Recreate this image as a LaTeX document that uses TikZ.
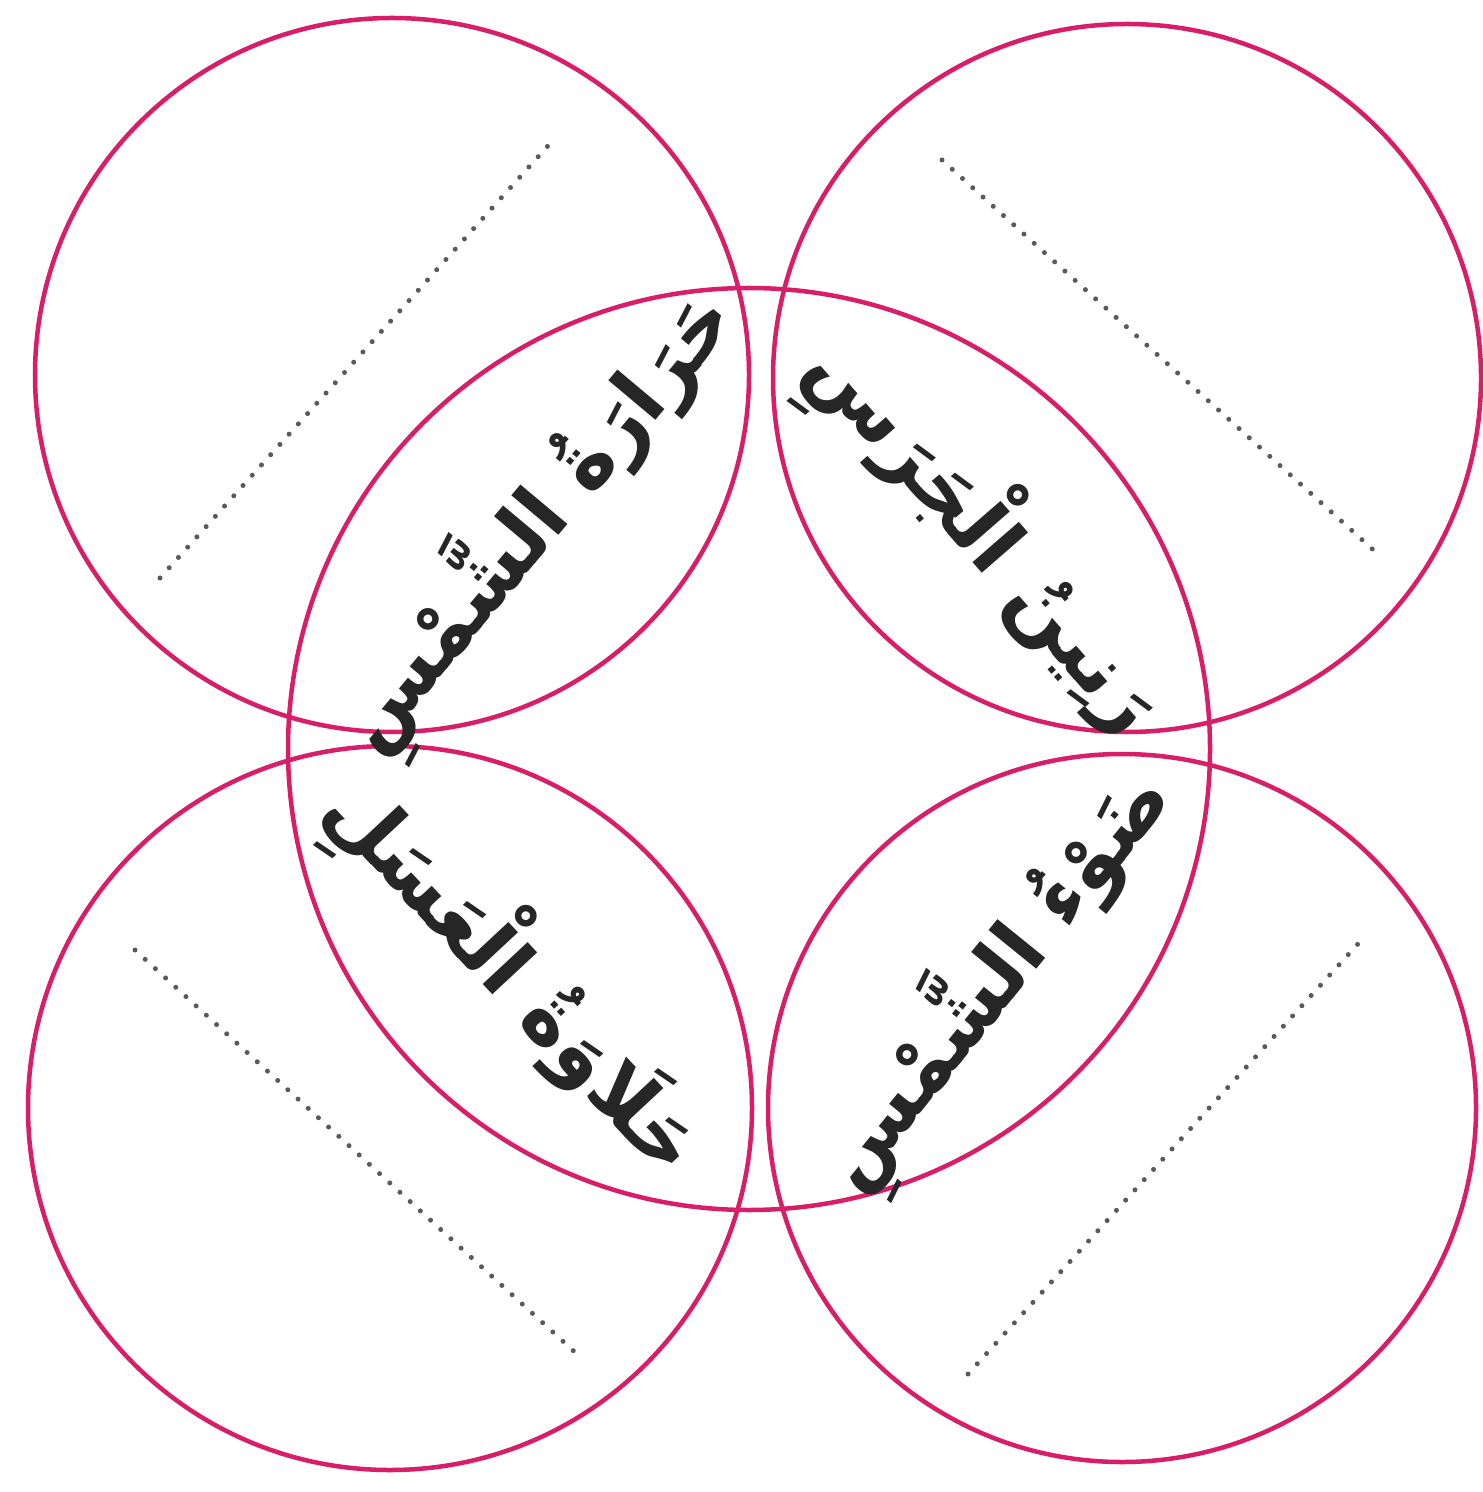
\documentclass[tikz,border=0pt]{standalone}
\usepackage{fontspec}
\newfontfamily\arabicfont[Script=Arabic]{DejaVu Sans}
\TeXXeTstate=1
\definecolor{ringpink}{RGB}{216,30,104}
\definecolor{dotgray}{RGB}{90,90,90}
\begin{document}
\begin{tikzpicture}[x=0.01cm,y=-0.01cm,
  ring/.style={draw=ringpink,line width=0.45mm},
  dotline/.style={draw=dotgray,line width=0.5mm,line cap=round,dash pattern=on 0pt off 1.38mm},
  word/.style={font=\arabicfont\bfseries\fontsize{23}{28}\selectfont,text=black!85,inner sep=0pt}]
\useasboundingbox[fill=white] (0,0) rectangle (1483,1492);
% circles
\draw[ring] (392,375) circle[radius=357];
\draw[ring] (1127,378) circle[radius=354];
\draw[ring] (390,1108) circle[radius=362];
\draw[ring] (1122,1108) circle[radius=354];
\draw[ring] (749,749) circle[radius=461];
% dotted answer lines
\coordinate (a1) at (160,578); \coordinate (a2) at (555,138);
\coordinate (b1) at (942,160); \coordinate (b2) at (1380,556);
\coordinate (c1) at (135,950); \coordinate (c2) at (578,1355);
\coordinate (d1) at (968,1374); \coordinate (d2) at (1366,935);
\draw[dotline] (a1) -- (a2);
\draw[dotline] (b1) -- (b2);
\draw[dotline] (c1) -- (c2);
\draw[dotline] (d1) -- (d2);
% words
\node[word,rotate=50] (w1) at (537,522) {\beginR حَرَارَةُ الشَّمْسِ\endR};
\node[word,rotate=-49] (w2) at (985,535) {\beginR رَنِينُ الْجَرَسِ\endR};
\node[word,rotate=-47] (w3) at (515,975) {\beginR حَلَاوَةُ الْعَسَلِ\endR};
\node[word,rotate=51] (w4) at (995,980) {\beginR ضَوْءُ الشَّمْسِ\endR};
\end{tikzpicture}
\end{document}
